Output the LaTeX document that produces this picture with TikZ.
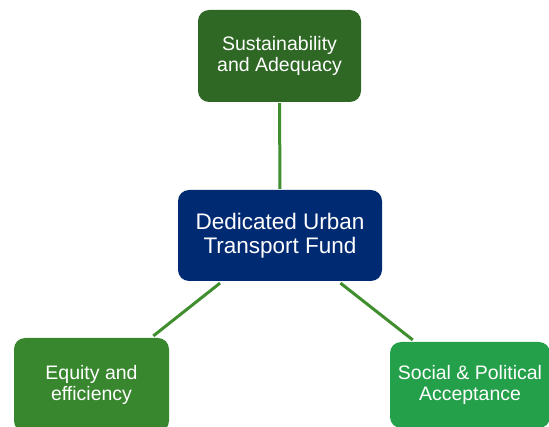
\documentclass[tikz,border=0pt]{standalone}
\usepackage{fontspec}
\setmainfont{Liberation Sans}
\usepackage{tikz}

\definecolor{topgreen}{HTML}{2E6824}
\definecolor{fundblue}{HTML}{002B73}
\definecolor{eqgreen}{HTML}{38872E}
\definecolor{socgreen}{HTML}{24A04A}
\definecolor{linkgreen}{HTML}{3F8F2F}

\begin{document}
\begin{tikzpicture}[x=1pt,y=-1pt,
    box/.style={rectangle, rounded corners=11pt, text=white, align=center, inner sep=0pt,
                font=\fontsize{19.5}{20.5}\selectfont},
    link/.style={linkgreen, line width=3pt}]

  %% Frame
  \useasboundingbox (0,0) rectangle (549,427);
  \clip (0,0) rectangle (549,427);

  %% Boxes
  \node[box, fill=topgreen, minimum width=163pt, minimum height=92pt] (sus) at (279.5,56) {Sustainability\\and Adequacy};
  \node[box, fill=fundblue, minimum width=204pt, minimum height=91pt,
        font=\fontsize{22.5}{24}\selectfont] (fund) at (280,235.5) {Dedicated Urban\\Transport Fund};
  \node[box, fill=eqgreen, minimum width=155pt, minimum height=94pt] (eq) at (91.5,385) {Equity and\\efficiency};
  \node[box, fill=socgreen, minimum width=160pt, minimum height=86pt] (soc) at (470,385) {Social \& Political\\Acceptance};

  %% Links
  \draw[link, shorten <=1pt, shorten >=1pt] (sus) -- (fund);
  \draw[link, shorten <=3pt, shorten >=3pt] (fund) -- (eq);
  \draw[link, shorten <=3pt, shorten >=3pt] (fund) -- (soc);

\end{tikzpicture}
\end{document}
